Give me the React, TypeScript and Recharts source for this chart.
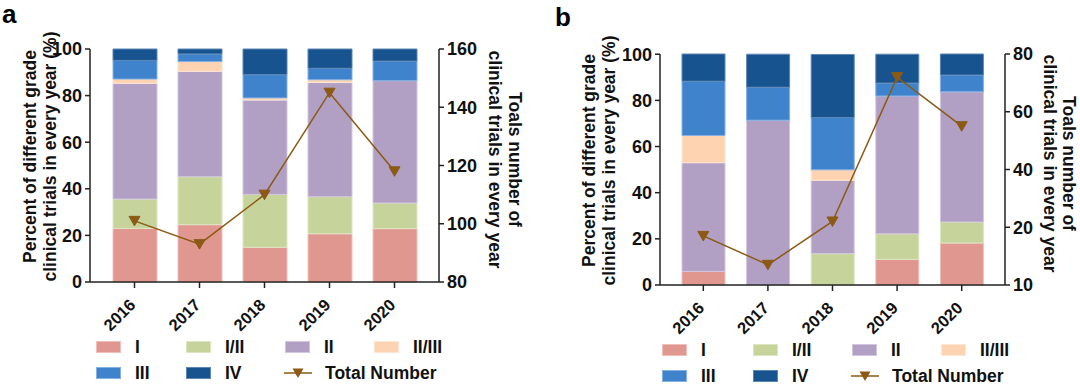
import React from 'react';
import { ComposedChart, Bar, Line, XAxis, YAxis } from 'recharts';

const years = ['2016', '2017', '2018', '2019', '2020'];
const gradeNames = ['I', 'I/II', 'II', 'II/III', 'III', 'IV'];
const gradeKeys = ['g1', 'g12', 'g2', 'g23', 'g3', 'g4'];
const gradeColors = ['#e0978f', '#c6d49c', '#b19fc4', '#fdd3b1', '#3f83cd', '#17548f'];
const gradeEdges = ['#efc0bb', '#dde6c2', '#d2c7e0', '#fee6d2', '#86b0e2', '#5d86b3'];
const lineColor = '#8b5a14';

// Panel a (percent of trials per grade)
const aI = [23.0, 24.6, 14.9, 20.7, 22.9];
const aI_II = [12.6, 20.6, 22.7, 15.9, 11.0];
const aII = [49.7, 45.2, 40.5, 49.0, 52.5];
const aII_III = [1.8, 4.2, 0.9, 1.2, 0];
const aIII = [8.0, 3.3, 10.0, 4.9, 8.4];
const aIV = [4.9, 2.1, 11.0, 8.3, 5.2];
const aTotal = [101, 93, 110, 145, 118];

// Panel b
const bI = [5.9, 0, 0, 11.1, 18.2];
const bI_II = [0, 0, 13.6, 11.1, 9.1];
const bII = [47.1, 71.4, 31.8, 59.7, 56.4];
const bII_III = [11.8, 0, 4.5, 0, 0];
const bIII = [23.5, 14.3, 22.7, 5.6, 7.3];
const bIV = [11.8, 14.3, 27.3, 12.5, 9.1];
const bTotal = [17, 7, 22, 72, 55];

const leftTicks = [0, 20, 40, 60, 80, 100];
const aRightTicks = [80, 100, 120, 140, 160];
const aRightLabels = ['80', '100', '120', '140', '160'];
const bRightTicks = [0, 20, 40, 60, 80];
const bRightLabels = ['10', '20', '40', '60', '80'];

const leftTitle = ['Percent of different grade', 'clinical trials in every year (%)'];
const rightTitle = ['Toals number of', 'clinical trials in every year'];

const buildRows = (series: number[][], total: number[]) =>
  years.map((year, i) => {
    const row: any = { year, total: total[i] };
    gradeKeys.forEach((k, j) => {
      row[k] = series[j][i];
    });
    return row;
  });

const dataA = buildRows([aI, aI_II, aII, aII_III, aIII, aIV], aTotal);
const dataB = buildRows([bI, bI_II, bII, bII_III, bIII, bIV], bTotal);

const FONT = '"Liberation Sans", Arial, Helvetica, sans-serif';
const INK = '#111';
const AXIS = '#222';

const tickStyle = { fontFamily: FONT, fontSize: 18, fontWeight: 700, fill: INK };
const titleStyle: React.CSSProperties = { fontFamily: FONT, fontSize: 17.5, fontWeight: 700, fill: INK };

const renderYearTick = (props: any) => {
  const { x, y, payload, index } = props;
  const ax = x + 2;
  const ay = y + 16;
  return (
    <g key={`yt${index}`} transform={`translate(${ax},${ay})`}>
      <g transform="rotate(-45)">
        <text x={0} y={0} textAnchor="end" fontFamily={FONT} fontSize={16.5} fontWeight={700} fill={INK}>
          {payload.value}
        </text>
      </g>
    </g>
  );
};

const TriangleDot = (props: any) => {
  const { cx, cy, index } = props;
  if (cx == null || cy == null) return <g key={`d${index}`} />;
  return <path key={`d${index}`} d={`M${cx - 5.5},${cy - 4.5} L${cx + 5.5},${cy - 4.5} L${cx},${cy + 5} Z`} fill={lineColor} stroke={lineColor} strokeWidth={1} />;
};

const makeLeftTitle = (offsets: number[]) => (props: any) => {
  const vb = props.viewBox || {};
  const axisX = (vb.x || 0) + (vb.width || 0);
  const cy = (vb.y || 0) + (vb.height || 0) / 2 - 9;
  return (
    <g>
      {leftTitle.map((t, i) => {
        const tx = axisX + offsets[i];
        return (
          <text key={i} x={tx} y={cy} transform={`rotate(-90, ${tx}, ${cy})`} textAnchor="middle" style={titleStyle}>
            {t}
          </text>
        );
      })}
    </g>
  );
};

const makeRightTitle = (offsets: number[]) => (props: any) => {
  const vb = props.viewBox || {};
  const axisX = vb.x || 0;
  const cy = (vb.y || 0) + (vb.height || 0) / 2 - 6;
  return (
    <g>
      {rightTitle.map((t, i) => {
        const tx = axisX + offsets[i];
        return (
          <text key={i} x={tx} y={cy} transform={`rotate(90, ${tx}, ${cy})`} textAnchor="middle" style={titleStyle}>
            {t}
          </text>
        );
      })}
    </g>
  );
};

type PanelProps = {
  data: any[];
  leftW: number;
  rightW: number;
  margin: { top: number; right: number; bottom: number; left: number };
  rightTicks: number[];
  rightLabels: string[];
  rightDomain: [number, number];
  pad: number;
  barSize: number;
  leftOffsets: number[];
  rightOffsets: number[];
};

const Panel = (p: PanelProps) => (
  <ComposedChart width={540} height={340} data={p.data} margin={p.margin} barCategoryGap={0}>
    <XAxis
      dataKey="year"
      height={50}
      padding={{ left: p.pad, right: p.pad }}
      stroke={AXIS}
      strokeWidth={1.5}
      tickSize={6}
      tickMargin={2}
      tick={renderYearTick}
      interval={0}
    />
    <YAxis
      yAxisId="left"
      width={p.leftW}
      domain={[0, 100]}
      ticks={leftTicks}
      interval={0}
      stroke={AXIS}
      strokeWidth={1.5}
      tickSize={5}
      tickMargin={3}
      tick={tickStyle}
      label={makeLeftTitle(p.leftOffsets)}
    />
    <YAxis
      yAxisId="right"
      orientation="right"
      width={p.rightW}
      domain={p.rightDomain}
      ticks={p.rightTicks}
      interval={0}
      tickFormatter={(v: number) => p.rightLabels[p.rightTicks.indexOf(v)] ?? String(v)}
      stroke={AXIS}
      strokeWidth={1.5}
      tickSize={5}
      tickMargin={3}
      tick={tickStyle}
      label={makeRightTitle(p.rightOffsets)}
    />
    {gradeKeys.map((k, j) => (
      <Bar
        key={k}
        yAxisId="left"
        dataKey={k}
        name={gradeNames[j]}
        stackId="s"
        fill={gradeColors[j]}
        stroke={gradeEdges[j]}
        strokeWidth={1}
        barSize={p.barSize}
        isAnimationActive={false}
      />
    ))}
    <Line
      yAxisId="right"
      dataKey="total"
      name="Total Number"
      type="linear"
      stroke={lineColor}
      strokeWidth={1.5}
      dot={TriangleDot}
      activeDot={false}
      isAnimationActive={false}
    />
  </ComposedChart>
);

type LegendProps = { swatchX: number[]; rows: number[] };

const LegendBlock = ({ swatchX, rows }: LegendProps) => {
  const items: React.ReactNode[] = [];
  const textStyle: React.CSSProperties = {
    position: 'absolute',
    fontFamily: FONT,
    fontSize: 17.5,
    fontWeight: 700,
    color: INK,
    lineHeight: '20px',
    whiteSpace: 'nowrap',
  };
  gradeNames.forEach((name, j) => {
    const col = j % 4;
    const row = Math.floor(j / 4);
    const x = swatchX[col];
    const cy = rows[row];
    items.push(
      <div
        key={`s${j}`}
        style={{
          position: 'absolute',
          left: x,
          top: cy - 6,
          width: 25,
          height: 12,
          boxSizing: 'border-box',
          background: gradeColors[j],
          border: `1px solid ${gradeEdges[j]}`,
        }}
      />
    );
    items.push(
      <div key={`t${j}`} style={{ ...textStyle, left: x + 39, top: cy - 10 }}>
        {name}
      </div>
    );
  });
  const lx = swatchX[2];
  const ly = rows[1];
  items.push(
    <svg key="lm" width={28} height={14} style={{ position: 'absolute', left: lx - 1, top: ly - 7 }}>
      <line x1={0} y1={7} x2={28} y2={7} stroke={lineColor} strokeWidth={1.5} />
      <path d="M8.5,2.5 L19.5,2.5 L14,12 Z" fill={lineColor} />
    </svg>
  );
  items.push(
    <div key="lt" style={{ ...textStyle, left: lx + 40, top: ly - 10 }}>
      Total Number
    </div>
  );
  return <>{items}</>;
};

const PanelLetter = ({ x, y, text }: { x: number; y: number; text: string }) => (
  <div style={{ position: 'absolute', left: x, top: y, fontFamily: FONT, fontSize: 26, fontWeight: 700, color: '#000', lineHeight: '26px' }}>
    {text}
  </div>
);

export default function App() {
  return (
    <div style={{ position: 'absolute', left: 0, top: 0, width: 1080, height: 385, background: '#fff', overflow: 'hidden' }}>
      <div style={{ position: 'absolute', left: 0, top: 0 }}>
        <Panel
          data={dataA}
          leftW={90}
          rightW={80}
          margin={{ top: 49, right: 21, bottom: 8, left: 0 }}
          rightTicks={aRightTicks}
          rightLabels={aRightLabels}
          rightDomain={[80, 160]}
          pad={12}
          barSize={44}
          leftOffsets={[-54, -34]}
          rightOffsets={[70, 50]}
        />
      </div>
      <div style={{ position: 'absolute', left: 540, top: 0 }}>
        <Panel
          data={dataB}
          leftW={120}
          rightW={60}
          margin={{ top: 54, right: 15, bottom: 5, left: 0 }}
          rightTicks={bRightTicks}
          rightLabels={bRightLabels}
          rightDomain={[0, 80]}
          pad={11}
          barSize={43}
          leftOffsets={[-65, -45]}
          rightOffsets={[58, 39]}
        />
      </div>
      <PanelLetter x={2} y={1} text="a" />
      <PanelLetter x={555} y={4} text="b" />
      <LegendBlock swatchX={[96, 186, 285, 374]} rows={[347, 373]} />
      <LegendBlock swatchX={[662, 753, 852, 941]} rows={[350, 376]} />
    </div>
  );
}
